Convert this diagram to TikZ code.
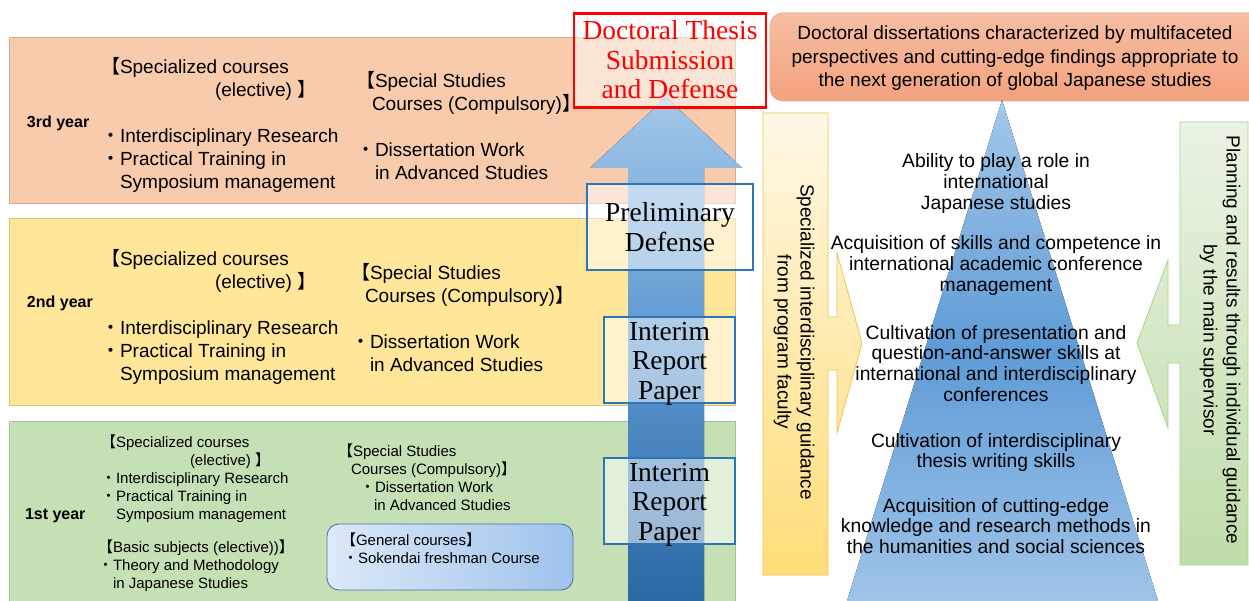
\documentclass[tikz,border=0pt]{standalone}
\usepackage{fontspec}
\setmainfont{Liberation Sans}
\newfontfamily\cjk{Noto Sans CJK JP}
\newfontfamily\srf{Liberation Serif}
\definecolor{bandA}{HTML}{F8CBAD}
\definecolor{bandB}{HTML}{FFE699}
\definecolor{bandC}{HTML}{C5E0B4}
\definecolor{arrTop}{HTML}{A2C7E9}
\definecolor{arrMid}{HTML}{5B96CF}
\definecolor{arrBot}{HTML}{2C68A5}
\definecolor{boxBlue}{HTML}{2E75B6}
\definecolor{pyrTop}{HTML}{A4C8EA}
\definecolor{pyrMid}{HTML}{5E9BD6}
\definecolor{pyrBot}{HTML}{A0C4E8}
\definecolor{ylTop}{HTML}{FFF8E6}
\definecolor{ylBot}{HTML}{FFDD78}
\definecolor{ylLine}{HTML}{F2C24E}
\definecolor{grTop}{HTML}{EAF3E4}
\definecolor{grBot}{HTML}{C0DCA9}
\definecolor{grLine}{HTML}{A9D18E}
\definecolor{orTop}{HTML}{F7BEA3}
\definecolor{orBot}{HTML}{F3A27E}
\definecolor{orLine}{HTML}{E3A88E}
\definecolor{genL}{HTML}{DCE9F8}
\definecolor{genR}{HTML}{9FC3EC}
\definecolor{genLine}{HTML}{4A76B0}
\newcommand{\myLB}{{\cjk 【}}
\newcommand{\myRB}{{\cjk 】}}
\newcommand{\myDT}{{\cjk ・}}
\newcommand{\blkL}[1]{\begin{tabular}[t]{@{}l@{}}#1\end{tabular}}
\newcommand{\blkC}[1]{\begin{tabular}[t]{@{}c@{}}#1\end{tabular}}
\tikzset{
  band/.style={fill=#1, draw=#1!85!black, line width=0.5pt},
  txtA/.style={anchor=base west, font=\fontsize{19}{23}\selectfont},
  txtB/.style={anchor=base west, font=\fontsize{15}{18}\selectfont},
  yearlbl/.style={anchor=base west, font=\bfseries\fontsize{16}{19}\selectfont},
  serifbox/.style={draw=boxBlue, line width=1.1pt, fill=white, fill opacity=0.5, text opacity=1},
  seriftxt/.style={anchor=base, font=\srf\fontsize{27.5}{29.5}\selectfont},
  pyrtxt/.style={anchor=base, font=\fontsize{19.3}{20.7}\selectfont},
  sidetxt/.style={rotate=-90, align=center, font=\fontsize{19}{23}\selectfont},
}
\begin{document}
\begin{tikzpicture}[x=1pt, y=-1pt, every node/.style={inner sep=0pt, outer sep=0pt}]
\useasboundingbox (0,0) rectangle (1249,601);
\clip (0,0) rectangle (1249,601);
\fill[white] (0,0) rectangle (1249,601);

% year bands
\node[band=bandA, minimum width=726pt, minimum height=166pt] (bandthree) at (372,120) {};
\node[band=bandB, minimum width=726pt, minimum height=187pt] (bandtwo) at (372,311.5) {};
\node[band=bandC, minimum width=726pt, minimum height=190pt] (bandone) at (372,516) {};

% 3rd year
\node[yearlbl] (y3) at (27,128) {3rd year};
\node[txtA] (y3a) at (101,74) {\blkL{\myLB Specialized courses\\
\hspace*{114pt}(elective) \myRB\\ \\
\myDT Interdisciplinary Research\\
\myDT Practical Training in\\
\phantom{\myDT}Symposium management}};
\node[txtA] (y3b) at (356,88) {\blkL{\myLB Special Studies\\
\hspace*{16pt}Courses (Compulsory)\myRB\\ \\
\myDT Dissertation Work\\
\phantom{\myDT}in Advanced Studies}};

% 2nd year
\node[yearlbl] (y2) at (27,308) {2nd year};
\node[txtA] (y2a) at (101,266) {\blkL{\myLB Specialized courses\\
\hspace*{114pt}(elective) \myRB\\ \\
\myDT Interdisciplinary Research\\
\myDT Practical Training in\\
\phantom{\myDT}Symposium management}};
\node[txtA] (y2b) at (351,280) {\blkL{\myLB Special Studies\\
\hspace*{14pt}Courses (Compulsory)\myRB\\ \\
\myDT Dissertation Work\\
\phantom{\myDT}in Advanced Studies}};

% 1st year
\node[yearlbl] (y1) at (25,519) {1st year};
\node[txtB] (y1a) at (101,447.5) {\blkL{\myLB Specialized courses\\
\hspace*{89pt}(elective) \myRB\\
\myDT Interdisciplinary Research\\
\myDT Practical Training in\\
\phantom{\myDT}Symposium management}};
\node[txtB] (y1c) at (98,552.5) {\blkL{\myLB Basic subjects (elective))\myRB\\
\myDT Theory and Methodology\\
\phantom{\myDT}in Japanese Studies}};
\node[txtB] (y1b) at (338,456.5) {\blkL{\myLB Special Studies\\
\hspace*{13pt}Courses (Compulsory)\myRB\\
\hspace*{22pt}\myDT Dissertation Work\\
\hspace*{36pt}in Advanced Studies}};
\node[draw=genLine, line width=0.9pt, rounded corners=12pt, left color=genL, right color=genR,
      minimum width=246pt, minimum height=66pt] (gen) at (450,557) {};
\node[txtB] (genT) at (341,545.5) {\blkL{\myLB General courses\myRB\\
\hspace*{2pt}\myDT Sokendai freshman Course}};

% big arrow
\fill[top color=arrTop, bottom color=arrBot, middle color=arrMid]
  (628,601) -- (628,168) -- (590,168) -- (666,97) -- (742,168) -- (704,168) -- (704,601) -- cycle;

% stage boxes
\node[draw=red, line width=2.4pt, fill=white, fill opacity=0.5, text opacity=1,
      minimum width=192pt, minimum height=94pt] (thesis) at (670,60.5) {};
\node[seriftxt, text=red] (thesisT) at (670,40) {\blkC{Doctoral Thesis\\Submission\\and Defense}};
\node[serifbox, minimum width=166pt, minimum height=86pt] (prelim) at (670,227) {};
\node[seriftxt] (prelimT) at (670,222) {\blkC{Preliminary\\Defense}};
\node[serifbox, minimum width=131pt, minimum height=86pt] (interimB) at (669.5,360) {};
\node[seriftxt] (interimBT) at (669.5,340) {\blkC{Interim\\Report\\Paper}};
\node[serifbox, minimum width=131pt, minimum height=86pt] (interimA) at (669.5,501) {};
\node[seriftxt] (interimAT) at (669.5,481) {\blkC{Interim\\Report\\Paper}};

% goal box
\node[draw=orLine, line width=0.8pt, rounded corners=13pt, top color=orTop, bottom color=orBot,
      minimum width=500pt, minimum height=88pt] (goal) at (1020,57) {};
\node[anchor=base, font=\fontsize{19}{23.5}\selectfont] (goalT) at (1015,40)
  {\blkC{Doctoral dissertations characterized by multifaceted\\
  perspectives and cutting-edge findings appropriate to\\
  the next generation of global Japanese studies}};

% left guidance box with arrow
\draw[ylLine, line width=0.8pt, top color=ylTop, bottom color=ylBot]
  (763,113) -- (828,113) -- (828,317) -- (837,317) -- (837,253) -- (862,343)
  -- (837,433) -- (837,370) -- (828,370) -- (828,575) -- (763,575) -- cycle;
\node[sidetxt] (leftT) at (794,342) {Specialized interdisciplinary guidance\\from program faculty};

% right guidance box with arrow
\draw[grLine, line width=0.8pt, top color=grTop, bottom color=grBot]
  (1248,122) -- (1180,122) -- (1180,325) -- (1168,325) -- (1168,260) -- (1137,343)
  -- (1168,428) -- (1168,363) -- (1180,363) -- (1180,565) -- (1248,565) -- cycle;
\node[sidetxt] (rightT) at (1220,340) {Planning and results through individual guidance\\by the main supervisor};

% pyramid
\fill[top color=pyrTop, bottom color=pyrBot, middle color=pyrMid]
  (1002,100) -- (1158,601) -- (847,601) -- cycle;
\node[pyrtxt] (p1) at (996,168) {\blkC{Ability to play a role in\\international\\Japanese studies}};
\node[pyrtxt] (p2) at (996,250) {\blkC{Acquisition of skills and competence in\\international academic conference\\management}};
\node[pyrtxt] (p3) at (996,339) {\blkC{Cultivation of presentation and\\question-and-answer skills at\\international and interdisciplinary\\conferences}};
\node[pyrtxt] (p4) at (996,447) {\blkC{Cultivation of interdisciplinary\\thesis writing skills}};
\node[pyrtxt] (p5) at (996,512) {\blkC{Acquisition of cutting-edge\\knowledge and research methods in\\the humanities and social sciences}};
\end{tikzpicture}
\end{document}
